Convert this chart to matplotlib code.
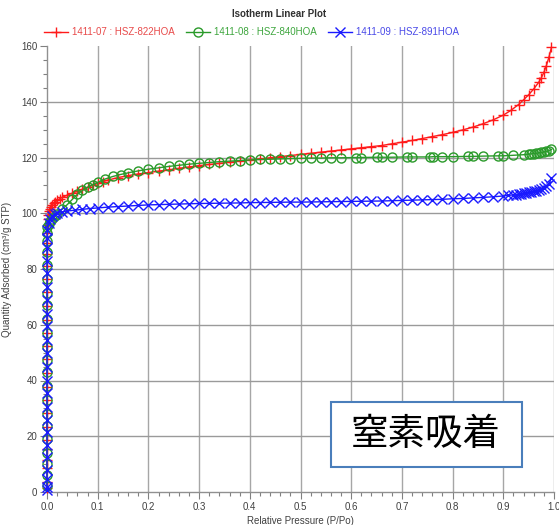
import matplotlib
matplotlib.use("Agg")
import matplotlib.pyplot as plt
from matplotlib.patches import Rectangle
from matplotlib.lines import Line2D

plt.rcParams['font.family'] = ['Liberation Sans', 'DejaVu Sans']

# --- data (P/Po, cm3/g STP) ---
# steep micropore part, all at P/Po ~ 0
red_p_low = [0.00001, 0.00002, 0.00003, 0.00004, 0.00005, 0.00006, 0.00007, 0.00008, 0.00009,
             0.0001, 0.00011, 0.00012, 0.00013, 0.00015, 0.00017, 0.0002, 0.00023, 0.00027,
             0.00032, 0.0004, 0.0005, 0.0007, 0.001, 0.0015, 0.002]
red_q_low = [1.5, 3.7, 8.5, 11.5, 15.4, 18.6, 23.4, 28.2, 33.0, 37.7, 42.8, 47.7, 52.3, 56.9,
             61.6, 66.6, 71.6, 76.3, 81.0, 85.5, 89.5, 93.0, 95.8, 97.8, 99.3]
red_p_high = [0.004, 0.006, 0.008, 0.010, 0.013, 0.016, 0.020, 0.025, 0.030, 0.040, 0.050, 0.060,
              0.070, 0.080, 0.090, 0.100, 0.110, 0.120, 0.14, 0.16, 0.18, 0.20, 0.22, 0.24, 0.26,
              0.28, 0.30, 0.32, 0.34, 0.36, 0.38, 0.40, 0.42, 0.44, 0.46, 0.48, 0.50, 0.52, 0.54,
              0.56, 0.58, 0.60, 0.62, 0.64, 0.66, 0.68, 0.70, 0.72, 0.74, 0.76, 0.78, 0.80, 0.82,
              0.84, 0.86, 0.88, 0.90, 0.915, 0.93, 0.94, 0.95, 0.96, 0.97, 0.975, 0.98, 0.985,
              0.99, 0.995]
red_q_high = [100.8, 101.6, 102.3, 102.9, 103.5, 104.0, 104.6, 105.2, 105.7, 106.5, 107.2, 107.9,
              108.6, 109.3, 110.0, 110.7, 111.3, 111.9, 112.8, 113.5, 114.1, 114.6, 115.1, 115.6,
              116.1, 116.6, 117.1, 117.5, 117.9, 118.3, 118.7, 119.1, 119.5, 119.9, 120.3, 120.7,
              121.1, 121.5, 121.9, 122.3, 122.7, 123.1, 123.5, 123.9, 124.3, 124.9, 125.5, 126.1,
              126.8, 127.5, 128.2, 129.0, 129.9, 130.9, 132.1, 133.5, 135.2, 136.9, 139.0, 140.7,
              142.5, 144.6, 147.0, 148.6, 150.5, 153.0, 156.0, 159.5]

green_p_low = [0.000015, 0.000025, 0.000035, 0.000045, 0.000055, 0.000065, 0.000075, 0.000085,
               0.000095, 0.000105, 0.000115, 0.000125, 0.00014, 0.00016, 0.00018, 0.00021,
               0.00025, 0.0003, 0.00036, 0.00045, 0.0006, 0.0009]
green_q_low = [2.0, 6.0, 10.0, 14.0, 19.0, 23.5, 28.0, 33.0, 38.0, 43.0, 47.5, 52.0, 57.0, 62.0,
               67.0, 71.5, 76.5, 81.5, 86.0, 90.0, 93.0, 95.2]
green_p_high = [0.003, 0.006, 0.010, 0.015, 0.020, 0.030, 0.040, 0.050, 0.060, 0.070, 0.080, 0.090,
                0.100, 0.115, 0.130, 0.145, 0.160, 0.180, 0.200, 0.220, 0.240, 0.260, 0.280, 0.300,
                0.320, 0.340, 0.360, 0.38, 0.40, 0.42, 0.44, 0.46, 0.48, 0.50, 0.52, 0.54, 0.56,
                0.58, 0.61, 0.62, 0.65, 0.66, 0.68, 0.71, 0.72, 0.755, 0.762, 0.78, 0.80, 0.83,
                0.84, 0.86, 0.89, 0.90, 0.92, 0.94, 0.95, 0.955, 0.96, 0.965, 0.97, 0.975, 0.98,
                0.985, 0.99, 0.995]
green_q_high = [96.3, 97.2, 98.0, 99.0, 99.9, 101.5, 103.1, 105.0, 106.8, 108.2, 109.3, 110.3,
                111.1, 112.3, 113.2, 113.9, 114.5, 115.2, 115.8, 116.3, 116.8, 117.2, 117.6, 117.9,
                118.2, 118.5, 118.7, 118.9, 119.1, 119.3, 119.4, 119.5, 119.6, 119.7, 119.8, 119.8,
                119.9, 119.9, 120.0, 120.0, 120.1, 120.1, 120.1, 120.2, 120.2, 120.2, 120.3, 120.3,
                120.3, 120.4, 120.4, 120.5, 120.6, 120.6, 120.8, 121.0, 121.2, 121.3, 121.4, 121.5,
                121.7, 121.8, 122.0, 122.2, 122.5, 122.9]

blue_p_low = [0.000005, 0.00001, 0.00002, 0.00003, 0.00004, 0.00005, 0.00006, 0.00007, 0.00008,
              0.00009, 0.0001, 0.00011, 0.00012, 0.00013, 0.00015, 0.00017, 0.0002, 0.00024,
              0.00029, 0.00036, 0.00046, 0.0006, 0.0009]
blue_q_low = [0.8, 1.8, 4.5, 8.0, 12.5, 17.0, 21.5, 26.0, 30.5, 35.5, 40.0, 45.0, 50.0, 54.5,
              59.5, 64.0, 69.0, 73.5, 78.5, 83.0, 87.5, 91.0, 94.0]
blue_p_high = [0.003, 0.006, 0.010, 0.015, 0.020, 0.030, 0.040, 0.055, 0.070, 0.085, 0.100, 0.12,
               0.14, 0.16, 0.18, 0.20, 0.22, 0.24, 0.26, 0.28, 0.30, 0.32, 0.34, 0.36, 0.38, 0.40,
               0.42, 0.44, 0.46, 0.48, 0.50, 0.52, 0.54, 0.56, 0.58, 0.60, 0.62, 0.64, 0.66, 0.68,
               0.70, 0.72, 0.74, 0.76, 0.78, 0.80, 0.82, 0.84, 0.86, 0.88, 0.90, 0.91, 0.92, 0.925,
               0.93, 0.935, 0.94, 0.945, 0.95, 0.955, 0.96, 0.965, 0.97, 0.975, 0.98, 0.985, 0.99,
               0.995]
blue_q_high = [96.5, 98.0, 99.0, 99.7, 100.1, 100.5, 100.8, 101.1, 101.4, 101.7, 101.9, 102.2,
               102.4, 102.6, 102.8, 103.0, 103.1, 103.2, 103.3, 103.4, 103.5, 103.55, 103.6, 103.65,
               103.7, 103.8, 103.85, 103.9, 103.95, 104.0, 104.0, 104.05, 104.1, 104.15, 104.2,
               104.25, 104.3, 104.35, 104.4, 104.5, 104.6, 104.7, 104.8, 104.9, 105.0, 105.2,
               105.3, 105.5, 105.7, 105.9, 106.2, 106.4, 106.6, 106.7, 106.8, 107.0, 107.1, 107.3,
               107.5, 107.7, 107.9, 108.1, 108.4, 108.8, 109.2, 109.8, 110.6, 112.6]

series = [
    ("1411-07 : HSZ-822HOA", red_p_low + red_p_high, red_q_low + red_q_high, "#ff1a1a", "+", "#e84a4a"),
    ("1411-08 : HSZ-840HOA", green_p_low + green_p_high, green_q_low + green_q_high, "#2a9a2a", "o", "#3ea63e"),
    ("1411-09 : HSZ-891HOA", blue_p_low + blue_p_high, blue_q_low + blue_q_high, "#1a1aff", "x", "#4a4ae8"),
]

x_major = [0.0, 0.1, 0.2, 0.3, 0.4, 0.5, 0.6, 0.7, 0.8, 0.9, 1.0]
y_major = [0, 20, 40, 60, 80, 100, 120, 140, 160]
x_minor = [i / 50 for i in range(51)]
y_minor = list(range(0, 161, 5))

W, H = 559, 525
fig = plt.figure(figsize=(W / 100, H / 100), dpi=100)
ax = fig.add_axes([47 / W, 1 - 492 / H, (554 - 47) / W, (492 - 46) / H])

# grid (no line along the top edge)
for xv in x_major[1:]:
    ax.axvline(xv, color="#a6a6a6", lw=1.0, zorder=0)
for yv in y_major[1:-1]:
    ax.axhline(yv, color="#9a9a9a", lw=1.0, zorder=0)

handles = []
for name, p, q, col, mk, tcol in series:
    ms = 6.5 if mk == "o" else 7
    ax.plot(p, q, color=col, lw=1.0, marker=mk, ms=ms, mfc="none", mec=col, mew=1.0,
            clip_on=False, zorder=3)
    handles.append(Line2D([], [], color=col, lw=1.0, marker=mk, ms=ms, mfc="none", mec=col,
                          mew=1.0))

ax.set_xlim(0, 1.0)
ax.set_ylim(0, 160)
ax.set_xticks(x_major)
ax.set_xticks(x_minor, minor=True)
ax.set_yticks(y_major)
ax.set_yticks(y_minor, minor=True)
ax.set_xticklabels([f"{v:.1f}" for v in x_major])
ax.set_yticklabels([str(v) for v in y_major])
ax.tick_params(which="major", direction="out", length=5, width=0.8, color="#808080",
               labelsize=7, labelcolor="#404040", pad=2)
ax.tick_params(which="minor", direction="out", length=3, width=0.8, color="#808080")
for s in ["top", "right"]:
    ax.spines[s].set_visible(False)
for s in ["left", "bottom"]:
    ax.spines[s].set_color("#909090")
    ax.spines[s].set_linewidth(1.0)

ax.set_xlabel("Relative Pressure (P/Po)", fontsize=7, color="#404040", labelpad=3)
ax.set_ylabel("Quantity Adsorbed (cm³/g STP)", fontsize=7, color="#404040")
ax.yaxis.set_label_coords(-35 / 507, 0.5)

fig.text(0.5, 1 - 14 / H, "Isotherm Linear Plot", ha="center", va="center", fontsize=7,
         fontweight="bold", color="#303030")

leg = fig.legend(handles, [s[0] for s in series], loc="center left",
                 bbox_to_anchor=(40 / W, 1 - 32 / H), ncol=3, frameon=False, fontsize=7,
                 handlelength=2.5, handletextpad=0.35, columnspacing=1.2, borderaxespad=0)
for txt, s in zip(leg.get_texts(), series):
    txt.set_color(s[5])

# annotation box
fig.patches.append(Rectangle((331 / W, 1 - 467 / H), 191 / W, 65 / H, transform=fig.transFigure,
                             facecolor="white", edgecolor="#4a7ebb", lw=1.5, zorder=5))
fig.text(426 / W, 1 - 434 / H, "窒素吸着", ha="center", va="center", fontsize=27,
         family=["Noto Sans CJK JP", "DejaVu Sans"], color="black", zorder=6)

fig.savefig("out.png", dpi=100)
